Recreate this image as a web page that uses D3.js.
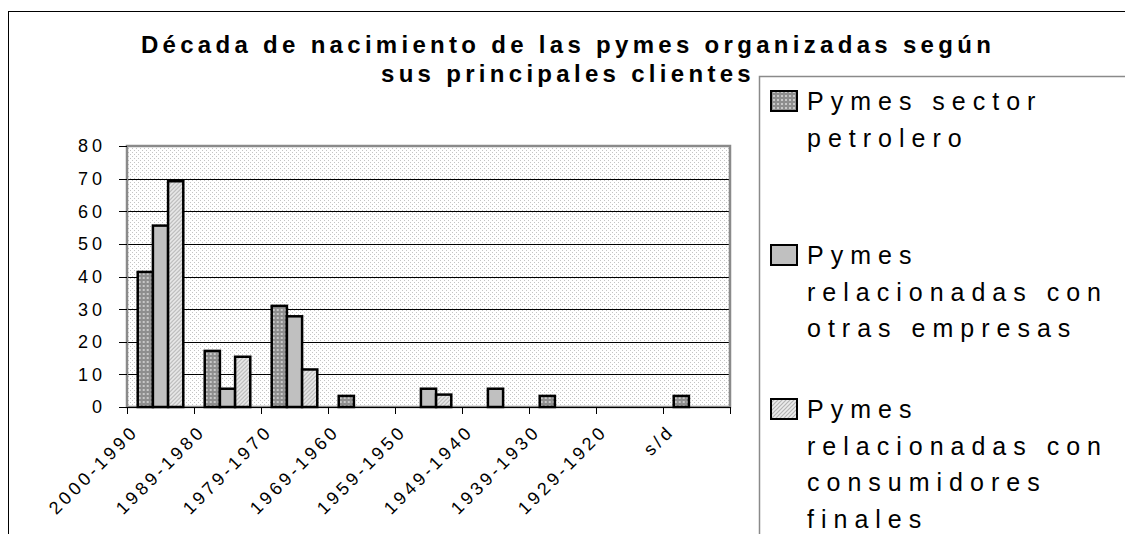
<!DOCTYPE html>
<html>
<head>
<meta charset="utf-8">
<script src="https://cdn.jsdelivr.net/npm/d3@7"></script>
<style>
  body { margin: 0; background: #fff; }
  text { font-family: "Liberation Sans", Arial, sans-serif; fill: #000; }
</style>
</head>
<body>
<svg width="1125" height="534"></svg>
<script>
// decades (categories)
var decades = ["2000-1990", "1989-1980", "1979-1970", "1969-1960", "1959-1950",
               "1949-1940", "1939-1930", "1929-1920", "s/d"];
// percentages per series
var petrolero    = [41.4, 17.2, 31.0, 3.4, 0, 0, 3.4, 0, 3.4];
var otrasEmpresas = [55.6, 5.6, 27.8, 0, 5.6, 5.6, 0, 0, 0];
var consumidores = [69.2, 15.4, 11.5, 0, 3.8, 0, 0, 0, 0];
var yTicks = [0, 10, 20, 30, 40, 50, 60, 70, 80];
var seriesNames = [
  ["Pymes sector", "petrolero"],
  ["Pymes", "relacionadas con", "otras empresas"],
  ["Pymes", "relacionadas con", "consumidores", "finales"]
];
var titleLines = ["Década de nacimiento de las pymes organizadas según",
                  "sus principales clientes"];

var series = [petrolero, otrasEmpresas, consumidores];
var fills = ["url(#pDots)", "#c0c0c0", "url(#pHatch)"];

var plot = {left: 127, right: 730, top: 146, bottom: 407};

var svg = d3.select("svg");

// patterns
var defs = svg.append("defs");
var bg = defs.append("pattern").attr("id", "pBg")
  .attr("patternUnits", "userSpaceOnUse").attr("width", 4).attr("height", 4);
bg.append("rect").attr("width", 4).attr("height", 4).attr("fill", "#fff");
bg.append("rect").attr("x", 0).attr("y", 0).attr("width", 1).attr("height", 1).attr("fill", "#c4c4c4");
bg.append("rect").attr("x", 2).attr("y", 2).attr("width", 1).attr("height", 1).attr("fill", "#c4c4c4");

var dots = defs.append("pattern").attr("id", "pDots")
  .attr("patternUnits", "userSpaceOnUse").attr("width", 4).attr("height", 4);
dots.append("rect").attr("width", 4).attr("height", 4).attr("fill", "#8e8e8e");
dots.append("rect").attr("x", 1).attr("y", 1).attr("width", 2).attr("height", 2).attr("fill", "#c8c8c8");

var hatch = defs.append("pattern").attr("id", "pHatch")
  .attr("patternUnits", "userSpaceOnUse").attr("width", 4).attr("height", 4);
hatch.append("rect").attr("width", 4).attr("height", 4).attr("fill", "#ececec");
hatch.append("path").attr("d", "M-1,1 l2,-2 M0,4 l4,-4 M3,5 l2,-2")
  .attr("stroke", "#b4b4b4").attr("stroke-width", 1.2);

// outer chart border
svg.append("rect")
  .attr("x", 8.5).attr("y", 11.5).attr("width", 1130).attr("height", 540)
  .attr("fill", "none").attr("stroke", "#000").attr("stroke-width", 1);

// scales
var x0 = d3.scaleBand()
  .domain(decades)
  .range([plot.left, plot.right])
  .paddingInner(0.32)
  .paddingOuter(0.16);

var x1 = d3.scaleBand()
  .domain([0, 1, 2])
  .range([0, x0.bandwidth()]);

var y = d3.scaleLinear()
  .domain([0, 80])
  .range([plot.bottom, plot.top]);

// plot background
svg.append("rect")
  .attr("x", plot.left).attr("y", plot.top)
  .attr("width", plot.right - plot.left).attr("height", plot.bottom - plot.top)
  .attr("fill", "url(#pBg)");

// gridlines
svg.append("g")
  .selectAll("line")
  .data(yTicks.filter(function(d) { return d > 0 && d < 80; }))
  .enter().append("line")
  .attr("x1", plot.left).attr("x2", plot.right)
  .attr("y1", function(d) { return Math.round(y(d)) + 0.5; })
  .attr("y2", function(d) { return Math.round(y(d)) + 0.5; })
  .attr("stroke", "#000").attr("stroke-width", 1);

// plot border
svg.append("rect")
  .attr("x", plot.left).attr("y", plot.top)
  .attr("width", plot.right - plot.left).attr("height", plot.bottom - plot.top)
  .attr("fill", "none").attr("stroke", "#8a8a8a").attr("stroke-width", 2.5);

// bars
var groups = svg.append("g")
  .selectAll("g")
  .data(decades)
  .enter().append("g")
  .attr("transform", function(d) { return "translate(" + x0(d) + ",0)"; });

groups.selectAll("rect")
  .data(function(d, i) {
    return series.map(function(s, k) { return {k: k, v: s[i]}; })
      .filter(function(e) { return e.v > 0; });
  })
  .enter().append("rect")
  .attr("x", function(d) { return x1(d.k); })
  .attr("y", function(d) { return y(d.v); })
  .attr("width", x1.bandwidth())
  .attr("height", function(d) { return y(0) - y(d.v); })
  .attr("fill", function(d) { return fills[d.k]; })
  .attr("stroke", "#000")
  .attr("stroke-width", 2.5);

// x axis
var xAxis = svg.append("g").attr("transform", "translate(0," + plot.bottom + ")");
xAxis.append("line")
  .attr("x1", plot.left).attr("x2", plot.right)
  .attr("y1", 0.5).attr("y2", 0.5)
  .attr("stroke", "#000");
var half = x0.step() * x0.paddingInner() / 2;
var bounds = decades.map(function(d) { return x0(d) - half; }).concat([plot.right]);
xAxis.selectAll(".tk")
  .data(bounds)
  .enter().append("line")
  .attr("x1", function(d) { return Math.round(d) + 0.5; })
  .attr("x2", function(d) { return Math.round(d) + 0.5; })
  .attr("y1", 0).attr("y2", 7)
  .attr("stroke", "#000");
xAxis.selectAll("text")
  .data(decades)
  .enter().append("text")
  .attr("transform", function(d) {
    return "translate(" + (x0(d) - half + 8) + ",21) rotate(-45)";
  })
  .attr("text-anchor", "end")
  .attr("dy", "0.35em")
  .style("font-size", "18px")
  .style("letter-spacing", "3.5px")
  .text(function(d) { return d; });

// y axis
var yAxis = svg.append("g");
yAxis.selectAll("line")
  .data(yTicks)
  .enter().append("line")
  .attr("x1", plot.left - 8).attr("x2", plot.left)
  .attr("y1", function(d) { return Math.round(y(d)) + 0.5; })
  .attr("y2", function(d) { return Math.round(y(d)) + 0.5; })
  .attr("stroke", "#000");
yAxis.selectAll("text")
  .data(yTicks)
  .enter().append("text")
  .attr("x", 106)
  .attr("y", function(d) { return y(d); })
  .attr("dy", "0.36em")
  .attr("text-anchor", "end")
  .style("font-size", "18px")
  .style("letter-spacing", "4px")
  .text(function(d) { return d; });

// title
svg.append("g")
  .selectAll("text")
  .data(titleLines)
  .enter().append("text")
  .attr("x", 568)
  .attr("y", function(d, i) { return 53 + i * 29; })
  .attr("text-anchor", "middle")
  .style("font-size", "24px")
  .style("font-weight", "bold")
  .style("letter-spacing", "4.3px")
  .text(function(d) { return d; });

// legend
svg.append("rect")
  .attr("x", 759.5).attr("y", 76.5).attr("width", 400).attr("height", 500)
  .attr("fill", "#fff").attr("stroke", "#8a8a8a").attr("stroke-width", 1.5);

var legend = svg.selectAll(".legend")
  .data(seriesNames)
  .enter().append("g")
  .attr("class", "legend")
  .attr("transform", function(d, i) { return "translate(0," + (110 + i * 154) + ")"; });

legend.append("rect")
  .attr("x", 771).attr("y", -19)
  .attr("width", 26).attr("height", 20)
  .attr("fill", function(d, i) { return fills[i]; })
  .attr("stroke", "#000").attr("stroke-width", 2);

legend.selectAll("text")
  .data(function(d) { return d; })
  .enter().append("text")
  .attr("x", 807)
  .attr("y", function(d, j) { return j * 36.5; })
  .style("font-size", "25px")
  .style("letter-spacing", "7px")
  .text(function(d) { return d; });
</script>
</body>
</html>
